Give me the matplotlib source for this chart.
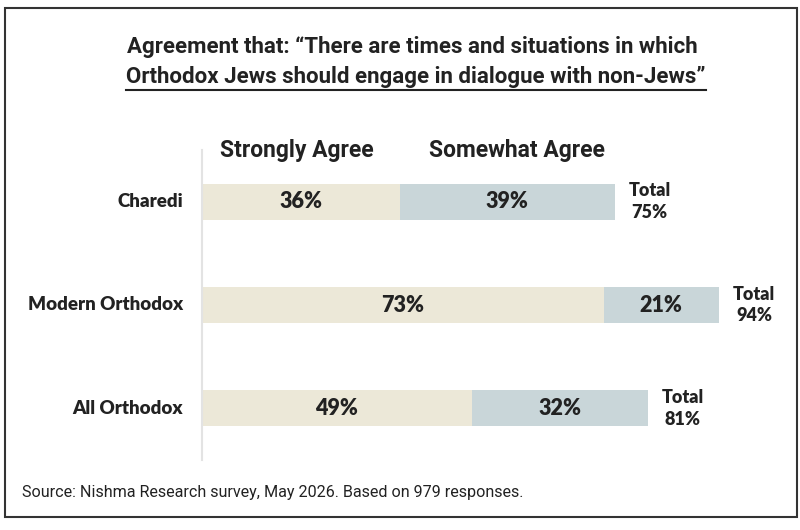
import matplotlib.pyplot as plt
from matplotlib.patches import Rectangle
from matplotlib.lines import Line2D

# data
groups = ["Charedi", "Modern Orthodox", "All Orthodox"]
strongly = [36, 73, 49]
somewhat = [39, 21, 32]
totals = [75, 94, 81]

col_strong = "#ECE8D8"
col_some = "#C9D6D9"
txt = "#222222"
narrow = ["Roboto", "DejaVu Sans"]
wide = ["Lato", "DejaVu Sans"]

fig = plt.figure(figsize=(8, 5.3), dpi=100)
W, H = 800, 530

# frame around chart
fig.patches.append(Rectangle((5 / W, 1 - 517 / H), 792 / W, 509 / H, transform=fig.transFigure,
                             fill=False, edgecolor="#333333", linewidth=1.5))

# title
fig.text(0.516, 1 - 47 / H, "Agreement that: \u201cThere are times and situations in which",
         ha="center", va="center", fontsize=16, fontweight="bold", family=narrow, color=txt)
t2 = fig.text(0.52, 1 - 77 / H, "Orthodox Jews should engage in dialogue with non-Jews\u201d",
              ha="center", va="center", fontsize=16, fontweight="bold", family=narrow, color=txt)

ax = fig.add_axes([202 / W, 70 / H, 550 / W, 310 / H])
y = range(len(groups))
ax.barh(y, strongly, height=0.35, color=col_strong)
ax.barh(y, somewhat, left=strongly, height=0.35, color=col_some)
ax.set_xlim(0, 100)
ax.set_ylim(2.5, -0.5)

for i in y:
    ax.text(strongly[i] / 2, i, f"{strongly[i]}%", ha="center", va="center",
            fontsize=15.5, fontweight="heavy", family=wide, color=txt)
    ax.text(strongly[i] + somewhat[i] / 2, i, f"{somewhat[i]}%", ha="center", va="center",
            fontsize=15.5, fontweight="heavy", family=wide, color=txt)
    ax.text(totals[i] + 6.4, i, f"Total\n{totals[i]}%", ha="center", va="center",
            fontsize=13, fontweight="heavy", family=wide, color=txt, linespacing=1.35)
    ax.text(-3.5, i, groups[i], ha="right", va="center",
            fontsize=13.5, fontweight="heavy", family=wide, color=txt)

ax.text(17.3, -0.5, "Strongly Agree", ha="center", va="center", fontsize=16.5,
        fontweight="bold", family=narrow, color=txt)
ax.text(57.3, -0.5, "Somewhat Agree", ha="center", va="center", fontsize=16.5,
        fontweight="bold", family=narrow, color=txt)

for s in ["top", "right", "bottom"]:
    ax.spines[s].set_visible(False)
ax.spines["left"].set_color("#E3E3E3")
ax.spines["left"].set_linewidth(1.5)
ax.set_xticks([])
ax.set_yticks([])

fig.text(22 / W, 1 - 493 / H, "Source: Nishma Research survey, May 2026. Based on 979 responses.",
         ha="left", va="center", fontsize=11.6, family=narrow, color=txt)

# underline second title line, measured from the rendered text
fig.canvas.draw()
bb = t2.get_window_extent().transformed(fig.transFigure.inverted())
fig.add_artist(Line2D([bb.x0, bb.x1], [bb.y0 - 0.004, bb.y0 - 0.004], transform=fig.transFigure,
                      color=txt, linewidth=1.5))

fig.savefig("out.png", dpi=100)
